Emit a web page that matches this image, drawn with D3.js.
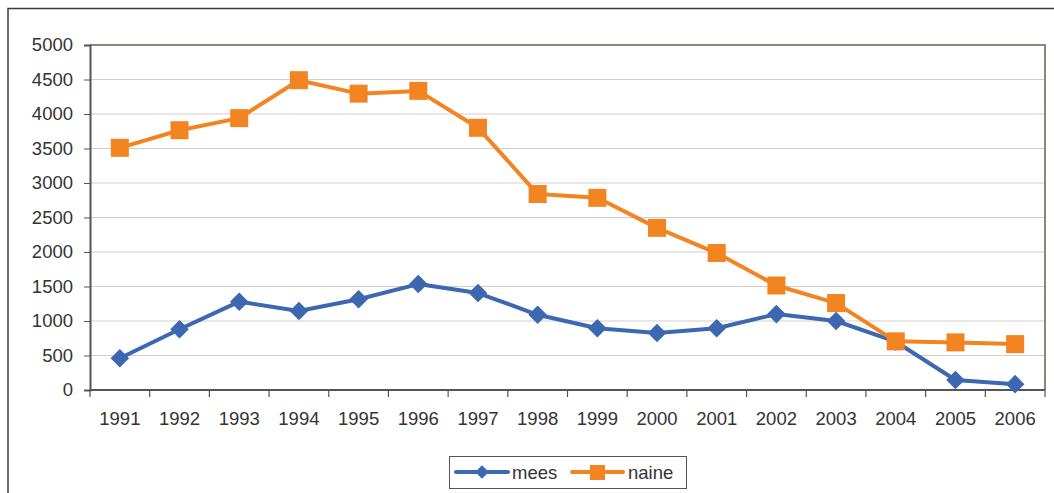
<!DOCTYPE html>
<html>
<head>
<meta charset="utf-8">
<script src="https://cdn.jsdelivr.net/npm/d3@7"></script>
<style>
  html, body { margin: 0; padding: 0; background: #fff; }
  svg { display: block; font-family: "Liberation Sans", Arial, sans-serif; }
</style>
</head>
<body>
<svg id="chart" width="1054" height="493"></svg>
<script>
// Years on the category axis
const years = ["1991","1992","1993","1994","1995","1996","1997","1998","1999","2000","2001","2002","2003","2004","2005","2006"];
// Series values
const mees  = [460, 880, 1280, 1145, 1315, 1535, 1405, 1090, 895, 825, 895, 1100, 1000, 700, 145, 85];
const naine = [3510, 3765, 3940, 4490, 4295, 4335, 3800, 2840, 2785, 2350, 1985, 1515, 1260, 705, 690, 665];
const yTicks = [0, 500, 1000, 1500, 2000, 2500, 3000, 3500, 4000, 4500, 5000];

const FONT = "18.5px";
const svg = d3.select("#chart");
const plot = { left: 90, right: 1045, top: 45, bottom: 390 };

// Outer chart frame (only top and left edges visible)
svg.append("path")
  .attr("d", "M8,493 V8.5 H1054")
  .attr("fill", "none").attr("stroke", "#3a3a3a").attr("stroke-width", 1.5);

const x = d3.scaleBand().domain(years).range([plot.left, plot.right]);
const y = d3.scaleLinear().domain([0, 5000]).range([plot.bottom, plot.top]);
const cx = d => x(d) + x.bandwidth() / 2;

// Horizontal gridlines
svg.append("g").selectAll("line")
  .data(yTicks.filter(t => t > 0 && t < 5000))
  .join("line")
  .attr("x1", plot.left).attr("x2", plot.right)
  .attr("y1", d => y(d)).attr("y2", d => y(d))
  .attr("stroke", "#d3cdcb").attr("stroke-width", 1);

// Plot area border (top and right)
svg.append("path")
  .attr("d", `M${plot.left},${plot.top} H${plot.right} V${plot.bottom}`)
  .attr("fill", "none").attr("stroke", "#8e8480").attr("stroke-width", 2);

// Y axis
const yAxis = d3.axisLeft(y).tickValues(yTicks).tickSize(6).tickPadding(11).tickFormat(d3.format("d"));
const gy = svg.append("g").attr("transform", `translate(${plot.left},0)`).call(yAxis);
gy.attr("font-size", null).attr("font-family", null);
gy.select(".domain").attr("stroke", "#555").attr("stroke-width", 2);
gy.selectAll(".tick line").attr("stroke", "#555");
gy.selectAll("text").attr("fill", "#333").style("font-size", FONT);

// X axis: ticks at category boundaries, labels centred in each band
const gx = svg.append("g").attr("transform", `translate(0,${plot.bottom})`);
gx.append("line").attr("x1", plot.left).attr("x2", plot.right)
  .attr("stroke", "#555").attr("stroke-width", 2);
const bounds = years.map(d => x(d)).concat([plot.right]);
gx.selectAll("line.tk").data(bounds).join("line").attr("class", "tk")
  .attr("x1", d => d).attr("x2", d => d).attr("y1", 0).attr("y2", 7)
  .attr("stroke", "#555").attr("stroke-width", 1.2);
gx.selectAll("text").data(years).join("text")
  .attr("x", d => cx(d)).attr("y", 35)
  .attr("text-anchor", "middle").attr("fill", "#333").style("font-size", FONT)
  .text(d => d);

const line = d3.line().x((d, i) => cx(years[i])).y(d => y(d));
const blue = "#3d67b1", orange = "#f28421";

// Series lines
svg.append("path").datum(mees).attr("d", line)
  .attr("fill", "none").attr("stroke", blue).attr("stroke-width", 4).attr("stroke-linejoin", "round");
svg.append("path").datum(naine).attr("d", line)
  .attr("fill", "none").attr("stroke", orange).attr("stroke-width", 4).attr("stroke-linejoin", "round");

// Markers: diamonds for mees, squares for naine
const diamond = d3.symbol().type(d3.symbolDiamond2).size(220);
svg.append("g").selectAll("path").data(mees).join("path")
  .attr("d", diamond)
  .attr("transform", (d, i) => `translate(${cx(years[i])},${y(d)})`)
  .attr("fill", blue);
svg.append("g").selectAll("rect").data(naine).join("rect")
  .attr("x", (d, i) => cx(years[i]) - 9).attr("y", d => y(d) - 9)
  .attr("width", 18).attr("height", 18).attr("fill", orange);

// Legend
const lg = svg.append("g");
lg.append("rect").attr("x", 449.5).attr("y", 456.5).attr("width", 237).attr("height", 32)
  .attr("fill", "#fff").attr("stroke", "#555").attr("stroke-width", 1);
lg.append("line").attr("x1", 456).attr("x2", 508).attr("y1", 472).attr("y2", 472)
  .attr("stroke", blue).attr("stroke-width", 4).attr("stroke-linecap", "round");
lg.append("path").attr("d", d3.symbol().type(d3.symbolDiamond2).size(120))
  .attr("transform", "translate(482,472)").attr("fill", blue);
lg.append("text").attr("x", 512).attr("y", 479).attr("fill", "#333").style("font-size", FONT).text("mees");
lg.append("line").attr("x1", 572).attr("x2", 623).attr("y1", 472).attr("y2", 472)
  .attr("stroke", orange).attr("stroke-width", 4).attr("stroke-linecap", "round");
lg.append("rect").attr("x", 590).attr("y", 465).attr("width", 15).attr("height", 15).attr("fill", orange);
lg.append("text").attr("x", 628).attr("y", 479).attr("fill", "#333").style("font-size", FONT).text("naine");
</script>
</body>
</html>
